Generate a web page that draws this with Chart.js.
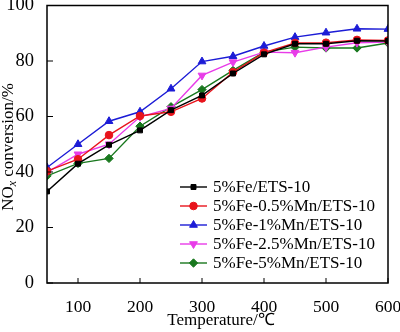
<!DOCTYPE html>
<html>
<head>
<meta charset="utf-8">
<script src="https://cdn.jsdelivr.net/npm/chart.js@4/dist/chart.umd.min.js"></script>
<style>
  html, body { margin: 0; padding: 0; background: #fff; }
  #wrap { width: 400px; height: 332px; }
</style>
</head>
<body>
<div id="wrap"><canvas id="chart" width="400" height="332"></canvas></div>
<script>
const temps = [50, 100, 150, 200, 250, 300, 350, 400, 450, 500, 550, 600]
const xTicks = [100, 200, 300, 400, 500, 600]
const yTicks = [0, 20, 40, 60, 80, 100]

const fe = [33, 43, 49.8, 55, 62.3, 67.6, 75.5, 82.4, 86.2, 86.2, 87.3, 87.2]
const feMn05 = [40.3, 44.6, 53.3, 60.2, 61.7, 66.5, 76, 83, 86.5, 86.6, 87.6, 87.4]
const feMn1 = [41.6, 50, 58.3, 61.7, 70, 79.8, 81.7, 85.4, 88.6, 90.2, 91.6, 91.5]
const feMn25 = [39.9, 46.4, 50, 59.9, 62.9, 74.8, 79.6, 83.2, 83, 85, 86.6, 86.8]
const feMn5 = [38.6, 43.1, 44.9, 56.5, 63.5, 69.7, 76.6, 83.2, 85, 84.7, 84.7, 86.5]

const labels = [
  "5%Fe/ETS-10",
  "5%Fe-0.5%Mn/ETS-10",
  "5%Fe-1%Mn/ETS-10",
  "5%Fe-2.5%Mn/ETS-10",
  "5%Fe-5%Mn/ETS-10",
]

const serif = "'Liberation Serif', 'Times New Roman', serif"

const series = (label, values, color, pointStyle, radius, rotation) => ({
  label,
  data: temps.map((t, i) => ({ x: t, y: values[i] })),
  borderColor: color,
  backgroundColor: color,
  borderWidth: 1.4,
  pointStyle,
  pointRadius: radius,
  pointRotation: rotation || 0,
  pointBorderWidth: 1,
  pointBorderColor: color,
  pointBackgroundColor: color,
  tension: 0,
})

// box, inward ticks, axis titles and legend
const decor = {
  id: "decor",
  afterDraw(chart) {
    const { ctx, chartArea: a, scales } = chart
    ctx.save()
    ctx.strokeStyle = "#000"
    ctx.lineWidth = 1.5
    ctx.strokeRect(a.left, a.top, a.right - a.left, a.bottom - a.top)

    ctx.lineWidth = 1
    ctx.beginPath()
    xTicks.forEach((v) => {
      const x = scales.x.getPixelForValue(v)
      ctx.moveTo(x, a.bottom)
      ctx.lineTo(x, a.bottom - 5)
    })
    yTicks.forEach((v) => {
      const y = scales.y.getPixelForValue(v)
      ctx.moveTo(a.left, y)
      ctx.lineTo(a.left + 6, y)
    })
    ctx.stroke()

    ctx.fillStyle = "#000"
    ctx.textBaseline = "middle"

    // x title
    ctx.font = "17px " + serif
    ctx.textAlign = "center"
    ctx.fillText("Temperature/\u2103", 221, 321)

    // y title with italic subscript x
    ctx.save()
    ctx.translate(9, 147)
    ctx.rotate(-Math.PI / 2)
    const p1 = "NO"
    const p3 = " conversion/%"
    ctx.font = "17px " + serif
    const w1 = ctx.measureText(p1).width
    const w3 = ctx.measureText(p3).width
    ctx.font = "italic 12px " + serif
    const w2 = ctx.measureText("x").width
    let x0 = -(w1 + w2 + w3) / 2
    ctx.textAlign = "left"
    ctx.font = "17px " + serif
    ctx.fillText(p1, x0, 0)
    ctx.font = "italic 12px " + serif
    ctx.fillText("x", x0 + w1, 4)
    ctx.font = "17px " + serif
    ctx.fillText(p3, x0 + w1 + w2, 0)
    ctx.restore()

    // legend
    ctx.font = "17px " + serif
    ctx.textAlign = "left"
    chart.data.datasets.forEach((ds, i) => {
      const y = 187 + i * 19
      ctx.strokeStyle = ds.borderColor
      ctx.lineWidth = 1.4
      ctx.beginPath()
      ctx.moveTo(180, y)
      ctx.lineTo(207, y)
      ctx.stroke()
      ctx.fillStyle = ds.pointBackgroundColor
      ctx.lineWidth = 1
      Chart.helpers.drawPoint(ctx, {
        pointStyle: ds.pointStyle,
        radius: ds.pointRadius,
        rotation: ds.pointRotation,
        borderWidth: 1,
      }, 193.5, y)
      ctx.fillStyle = "#000"
      ctx.fillText(ds.label, 213, y + 1)
    })
    ctx.restore()
  },
}

new Chart(document.getElementById("chart"), {
  type: "line",
  data: {
    datasets: [
      series(labels[0], fe, "#000000", "rect", 3.5),
      series(labels[1], feMn05, "#e8141c", "circle", 3.8),
      series(labels[2], feMn1, "#1c1cd6", "triangle", 4.5),
      series(labels[3], feMn25, "#e83ce8", "triangle", 4.5, 180),
      series(labels[4], feMn5, "#19781e", "rectRot", 4.2),
    ],
  },
  options: {
    responsive: false,
    animation: false,
    layout: { padding: { left: 0, right: 12, top: 5, bottom: 0 } },
    plugins: {
      legend: { display: false },
      tooltip: { enabled: false },
    },
    scales: {
      x: {
        type: "linear",
        min: 50,
        max: 600,
        afterBuildTicks: (s) => { s.ticks = xTicks.map((v) => ({ value: v })) },
        afterFit: (s) => {
          s.height = 49
          s.paddingLeft = 0
          s.paddingRight = 0
        },
        grid: { display: false },
        border: { display: false },
        ticks: {
          color: "#000",
          padding: 6,
          maxRotation: 0,
          font: { family: serif, size: 17.5 },
        },
      },
      y: {
        min: 0,
        max: 100,
        afterBuildTicks: (s) => { s.ticks = yTicks.map((v) => ({ value: v })) },
        afterFit: (s) => {
          s.width = 47
          s.paddingTop = 0
          s.paddingBottom = 0
        },
        grid: { display: false },
        border: { display: false },
        ticks: {
          color: "#000",
          padding: 5,
          font: { family: serif, size: 18.5 },
        },
      },
    },
  },
  plugins: [decor],
})
</script>
</body>
</html>
